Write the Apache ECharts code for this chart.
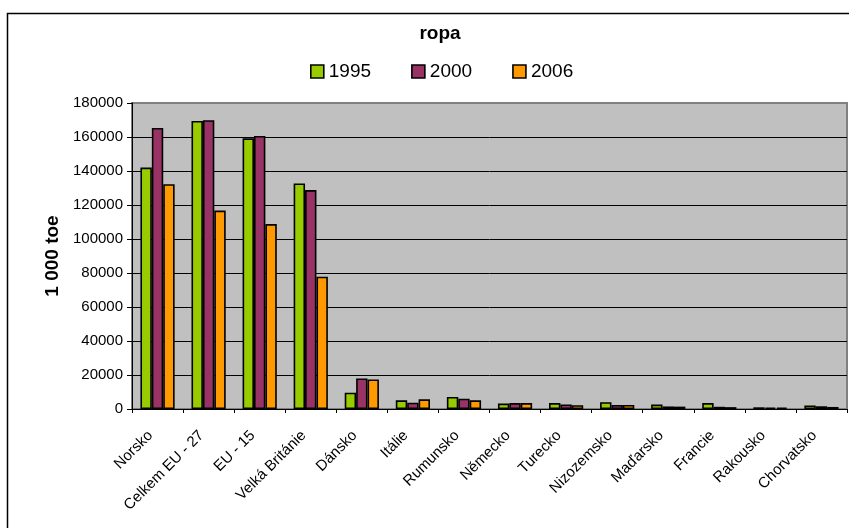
<!DOCTYPE html>
<html>
<head>
<meta charset="utf-8">
<title>ropa</title>
<script src="https://cdn.jsdelivr.net/npm/echarts@6/dist/echarts.min.js"></script>
<style>
  html, body { margin: 0; padding: 0; background: #fff; }
  #chart { width: 849px; height: 528px; }
</style>
</head>
<body>
<div id="chart"></div>
<script>
// Země / agregáty
var categories = ['Norsko', 'Celkem EU - 27', 'EU - 15', 'Velká Británie', 'Dánsko', 'Itálie',
  'Rumunsko', 'Německo', 'Turecko', 'Nizozemsko', 'Maďarsko', 'Francie', 'Rakousko', 'Chorvatsko'];

// Těžba ropy v 1 000 toe
var v1995 = [142000, 169400, 159200, 132700, 9600, 5100, 7100, 3200, 3500, 4000, 2600, 3500, 1000, 2100];
var v2000 = [165300, 169900, 160600, 128800, 18000, 3700, 6100, 3500, 2700, 2400, 1500, 1300, 900, 1600];
var v2006 = [132200, 116700, 108800, 77800, 17400, 5700, 5100, 3500, 2200, 2400, 1400, 1100, 900, 1200];

var seriesNames = ['1995', '2000', '2006'];
var yTicks = { min: 0, max: 180000, interval: 20000 };

var FONT = '"Liberation Sans", Arial, sans-serif';
var colors = ['#99CC00', '#993366', '#FF9900'];

var chart = echarts.init(document.getElementById('chart'), null, { renderer: 'canvas' });

function barSeries(name, data, color) {
  return {
    name: name,
    type: 'bar',
    data: data,
    barGap: '0%',
    barCategoryGap: '33%',
    itemStyle: { color: color, borderColor: '#000', borderWidth: 1.6 },
    emphasis: { disabled: true }
  };
}

// gridlines black, the top one blends into the grey plot-area frame
var gridColors = [];
for (var i = 0; i < 9; i++) gridColors.push('#000');
gridColors.push('#808080');

chart.setOption({
  animation: false,
  backgroundColor: '#fff',
  color: colors,
  textStyle: { fontFamily: FONT, color: '#000' },
  graphic: [{
    type: 'rect',
    shape: { x: 7.5, y: 13.5, width: 900, height: 600 },
    style: { fill: 'none', stroke: '#000', lineWidth: 1.5 },
    silent: true,
    z: 0
  }],
  title: {
    text: 'ropa',
    left: 435,
    textAlign: 'center',
    top: 19,
    textStyle: { fontFamily: FONT, fontSize: 19, fontWeight: 'bold', color: '#000' }
  },
  legend: {
    data: seriesNames,
    left: 305,
    top: 57,
    icon: 'rect',
    itemWidth: 13,
    itemHeight: 13,
    itemGap: 40,
    textStyle: { fontFamily: FONT, fontSize: 19, color: '#000' },
    itemStyle: { borderColor: '#000', borderWidth: 1.6 }
  },
  grid: {
    left: 132,
    right: 2,
    top: 103,
    bottom: 119,
    show: true,
    backgroundColor: '#C0C0C0',
    borderColor: '#808080',
    borderWidth: 2
  },
  xAxis: {
    type: 'category',
    data: categories,
    axisLine: { show: true, lineStyle: { color: '#000', width: 1 } },
    axisTick: { show: true, interval: 0, length: 4, lineStyle: { color: '#000' } },
    axisLabel: {
      interval: 0,
      rotate: 45,
      margin: 17,
      padding: [0, 10, 0, 0],
      fontFamily: FONT,
      fontSize: 15,
      color: '#000'
    },
    splitLine: { show: false }
  },
  yAxis: {
    type: 'value',
    min: yTicks.min,
    max: yTicks.max,
    interval: yTicks.interval,
    name: '1 000 toe',
    nameLocation: 'middle',
    nameRotate: 90,
    nameGap: 66,
    nameTextStyle: { fontFamily: FONT, fontSize: 19, fontWeight: 'bold', color: '#000' },
    axisLine: { show: true, lineStyle: { color: '#000', width: 1 } },
    axisTick: { show: true, length: 5, lineStyle: { color: '#000' } },
    axisLabel: {
      fontFamily: FONT, fontSize: 15, color: '#000', margin: 9,
      formatter: function (v) { return String(v); }
    },
    splitLine: { show: true, lineStyle: { color: gridColors, width: 1 } }
  },
  series: [
    barSeries(seriesNames[0], v1995, colors[0]),
    barSeries(seriesNames[1], v2000, colors[1]),
    barSeries(seriesNames[2], v2006, colors[2])
  ]
});
</script>
</body>
</html>
